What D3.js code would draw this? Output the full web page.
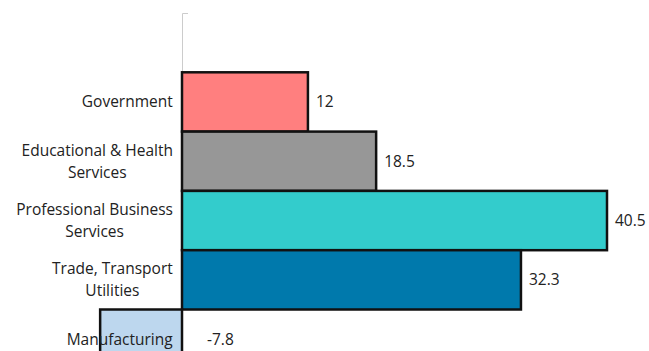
<!DOCTYPE html>
<html><head><meta charset="utf-8">
<script src="https://cdn.jsdelivr.net/npm/d3@7"></script>
<style>body{margin:0;background:#fff}svg{display:block}text{font-family:"Open Sans",sans-serif;font-size:15.5px;fill:#222}</style>
</head><body><svg id="c" width="649" height="351"></svg>
<script>
const categories = [["Government"],["Educational & Health","Services"],["Professional Business","Services"],["Trade, Transport","Utilities"],["Manufacturing"]];
const values = [12, 18.5, 40.5, 32.3, -7.8];
const colors = ["#FF7F7F","#979797","#33CCCC","#0079AC","#BDD7EE"];

const svg = d3.select("#c");
const keys = categories.map(c=>c.join(" "));
const step = 59.3, top0 = 13;
const y = d3.scaleBand().domain(keys).range([top0+step, top0+step*(keys.length+1)]).padding(0);
const x = d3.scaleLinear().domain([0, 40.5]).range([182, 607]);

// axis line
svg.append("path").attr("d",`M188,${top0+0.5}H182.5V351`).attr("fill","none").attr("stroke","#ccc").attr("stroke-width",1);

svg.selectAll("rect.bar").data(values).join("rect")
  .attr("x",d=>x(Math.min(0,d))).attr("y",(d,i)=>y(keys[i]))
  .attr("width",d=>Math.abs(x(d)-x(0))).attr("height",y.bandwidth())
  .attr("fill",(d,i)=>colors[i]).attr("stroke","#111").attr("stroke-width",2.5);

const lh = 22;
values.forEach((v,i)=>{
  const cy = y(keys[i])+y.bandwidth()/2;
  svg.append("text").attr("x", v>=0 ? x(v)+8 : x(0)+25).attr("y",cy).attr("dy","0.35em").text(v);
  const lines = categories[i];
  const g = svg.append("text").attr("text-anchor","middle");
  lines.forEach((l,j)=>g.append("tspan").attr("x",0)
    .attr("y", cy + (j-(lines.length-1)/2)*lh).attr("dy","0.35em").text(l));
  const w = g.node().getBBox().width;
  g.attr("transform",`translate(${173-w/2},0)`);
});
</script></body></html>
